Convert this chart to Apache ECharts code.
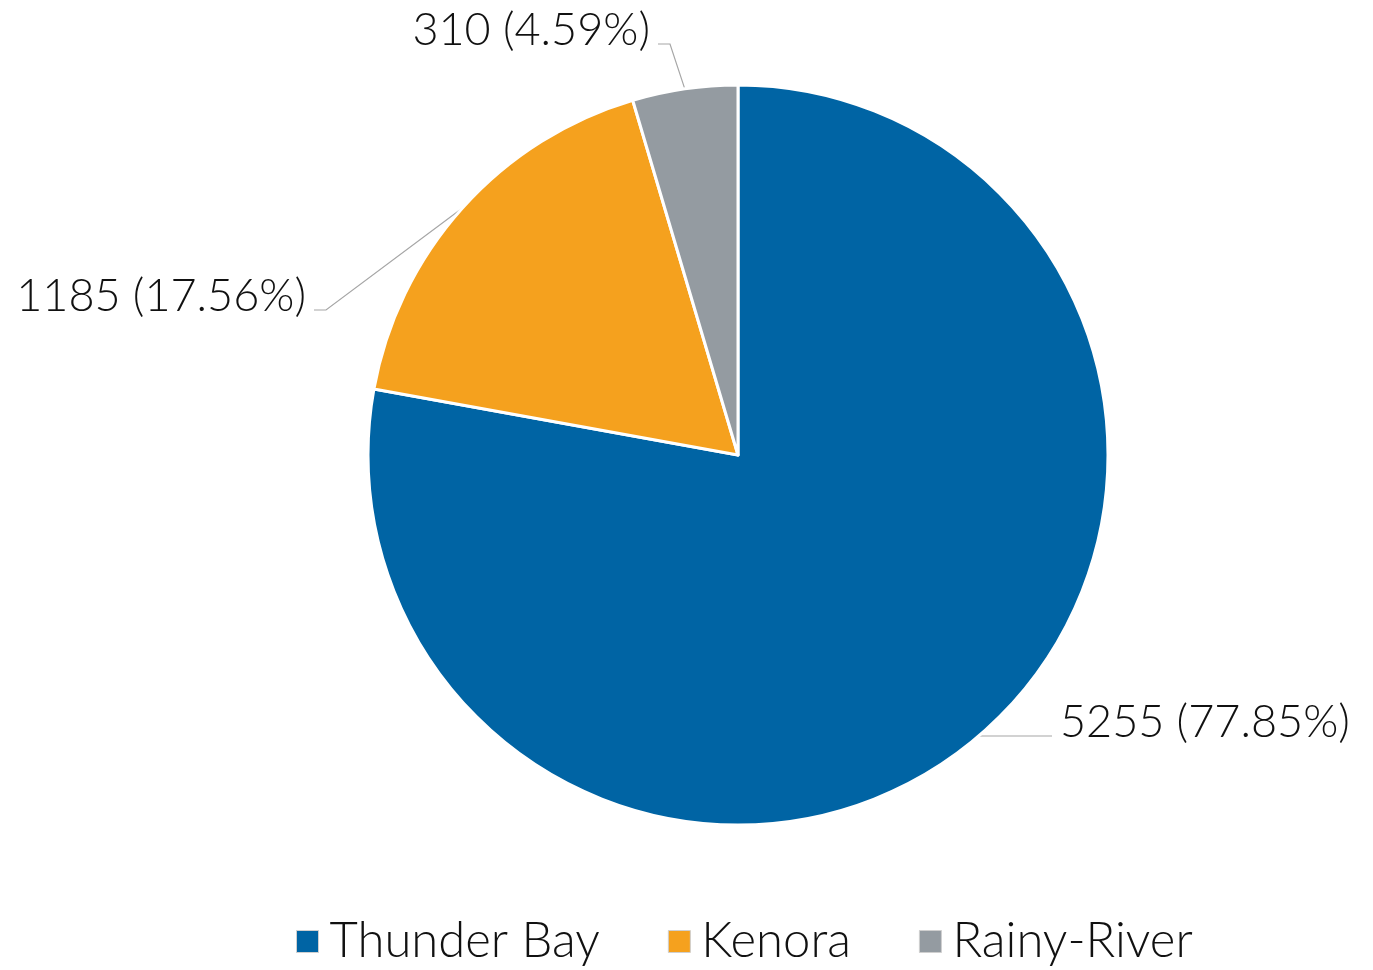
<!DOCTYPE html>
<html>
<head>
<meta charset="utf-8">
<script src="https://cdn.jsdelivr.net/npm/echarts@6/dist/echarts.min.js"></script>
<style>
  html, body { margin: 0; padding: 0; background: #fff; }
  #pieChart { width: 1373px; height: 970px; }
</style>
</head>
<body>
<div id="pieChart"></div>
<script>
// data
const regions = ['Thunder Bay', 'Kenora', 'Rainy-River'];
const counts = [5255, 1185, 310];
const sliceColors = ['#0064A4', '#F5A11E', '#949BA1'];

// where each label sits (text anchor), Excel style placement
const labelSpots = [
  { x: 1060, y: 722, align: 'left' },
  { x: 306, y: 296, align: 'right' },
  { x: 650, y: 30, align: 'right' }
];

const total = counts.reduce((a, b) => a + b, 0);

const pie = echarts.init(document.getElementById('pieChart'));
pie.setOption({
  color: sliceColors,
  textStyle: { fontFamily: 'Lato', fontWeight: 300 },
  legend: {
    top: 912,
    left: 291,
    icon: 'rect',
    itemWidth: 22,
    itemHeight: 22,
    itemGap: 68,
    itemStyle: { borderColor: '#cfcfcf', borderWidth: 1 },
    textStyle: {
      fontFamily: 'Lato',
      fontWeight: 300,
      fontSize: 49,
      color: '#111',
      padding: [0, 0, 0, 6]
    },
    data: regions
  },
  series: [{
    type: 'pie',
    center: [738, 455],
    radius: 370,
    startAngle: 90,
    clockwise: true,
    itemStyle: { borderColor: '#fff', borderWidth: 3 },
    emphasis: { disabled: true },
    label: {
      show: true,
      position: 'outside',
      fontFamily: 'Lato',
      fontWeight: 300,
      fontSize: 45,
      color: '#111',
      formatter: p => p.value + ' (' + (p.value / total * 100).toFixed(2) + '%)'
    },
    labelLine: {
      show: true,
      length: 20,
      length2: 20,
      lineStyle: { color: '#a6a6a6', width: 1.2 }
    },
    labelLayout: function (params) {
      const spot = labelSpots[params.dataIndex];
      const start = params.labelLinePoints[0];
      const lineY = spot.y + 14;
      const dir = spot.align === 'left' ? -1 : 1;
      const end = [spot.x + dir * 8, lineY];
      const bend = [end[0] + dir * (params.dataIndex === 0 ? 0 : 12), lineY];
      return {
        x: spot.x,
        y: spot.y,
        align: spot.align,
        verticalAlign: 'middle',
        labelLinePoints: params.dataIndex === 0 ? [start, [start[0] + 1, lineY], end] : [start, bend, end]
      };
    },
    data: regions.map((name, i) => ({ name: name, value: counts[i] }))
  }]
});
</script>
</body>
</html>
